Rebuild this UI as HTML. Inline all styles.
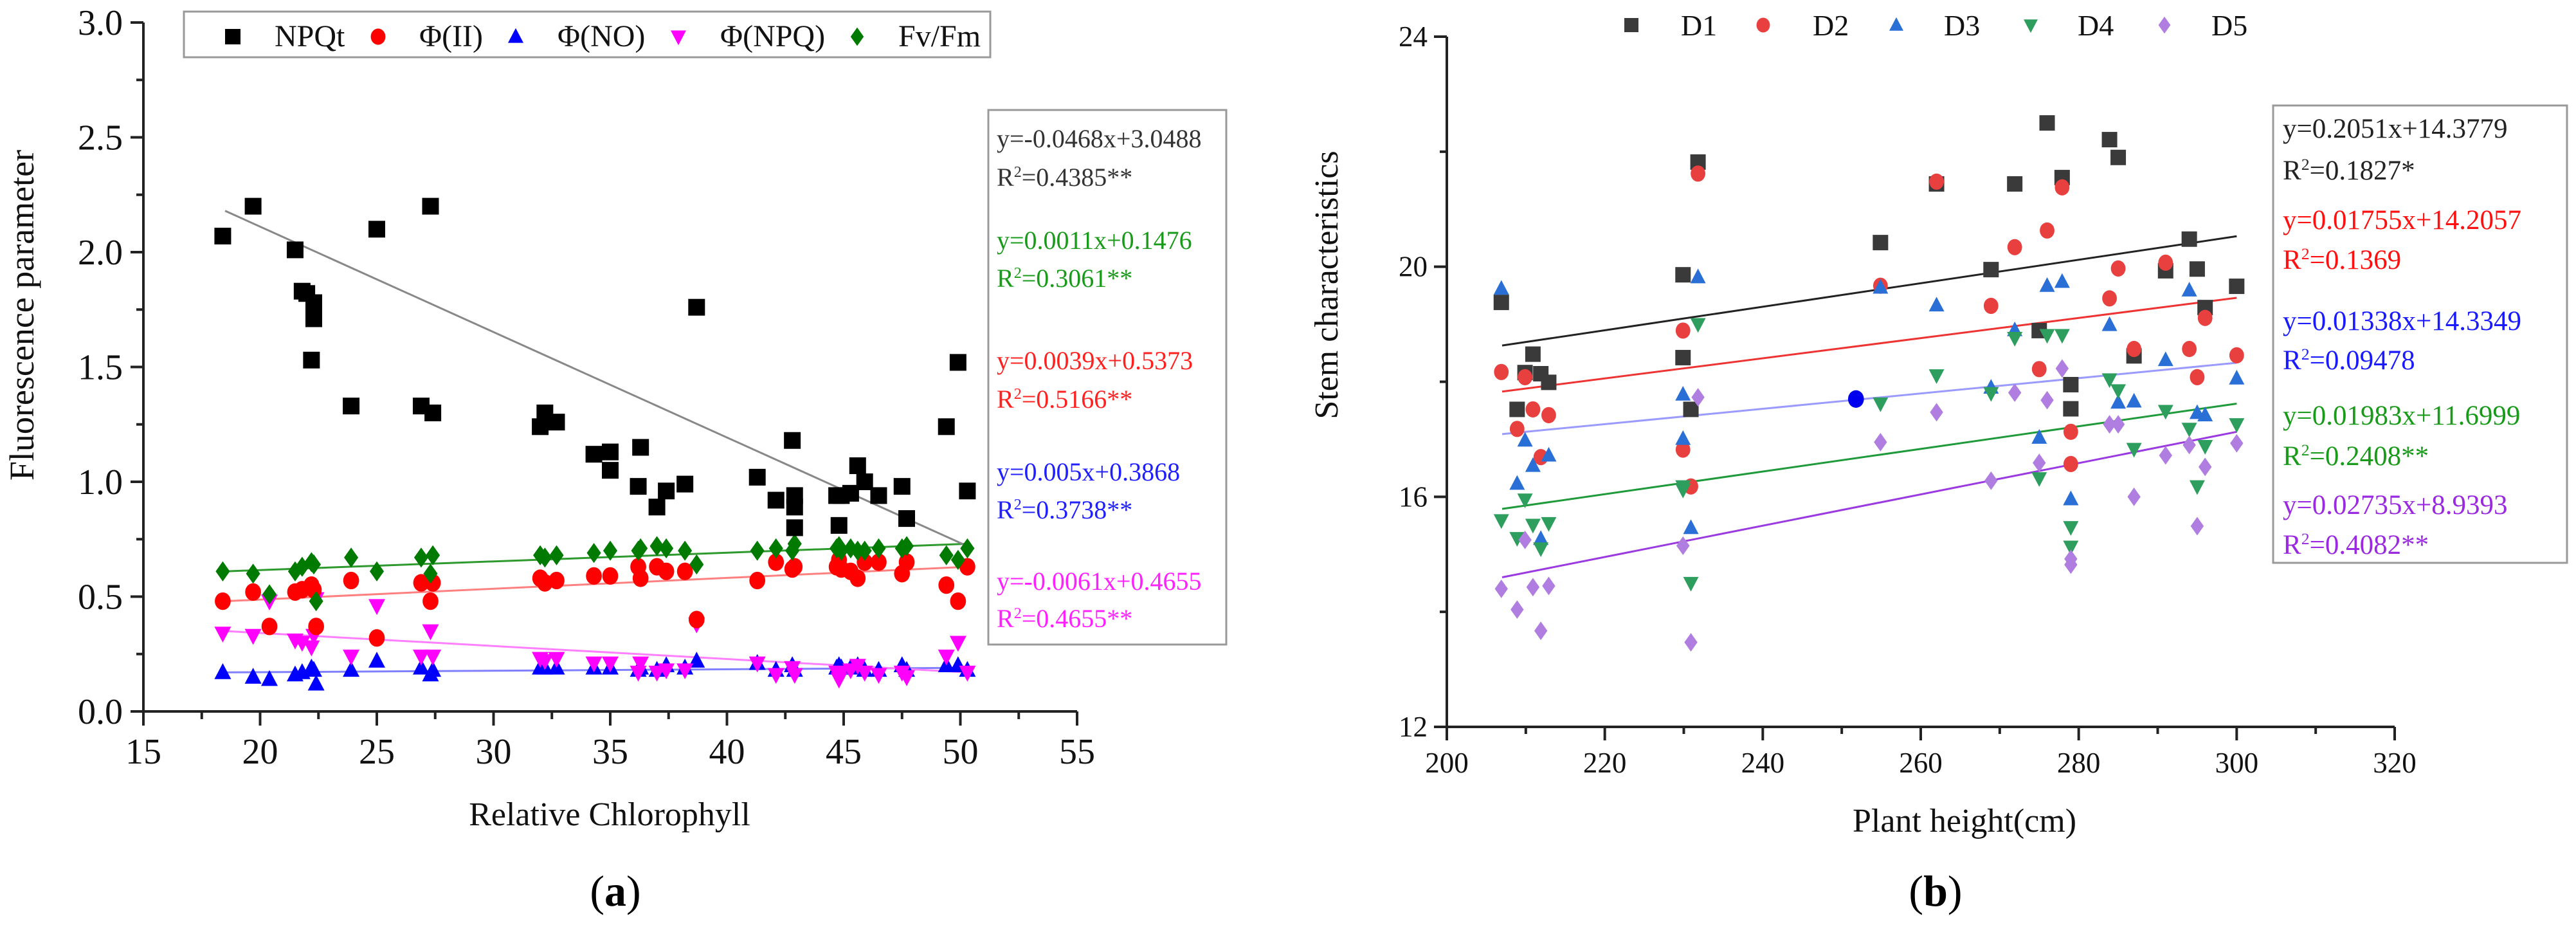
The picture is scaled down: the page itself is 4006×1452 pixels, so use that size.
<!DOCTYPE html>
<html><head><meta charset="utf-8">
<style>
html,body{margin:0;padding:0;background:#fff;}
svg, svg text{font-family:"Liberation Serif","Times New Roman",serif;}
</style></head>
<body>
<svg id="fig" width="4006" height="1447" viewBox="0 0 4006 1447" xmlns="http://www.w3.org/2000/svg" font-family="Liberation Serif, serif">
<g id="pa"></g>
<g id="pb"></g>
</svg>
<script>
// ---------- Panel (a) data ----------
const aX = [18.4,19.7,20.4,21.5,21.8,22.2,22.3,22.4,23.9,25.0,26.9,27.3,27.4,32.0,32.2,32.7,34.3,35.0,36.2,36.3,37.0,37.4,38.2,38.7,41.3,42.1,42.8,42.9,44.7,44.8,44.9,45.3,45.6,45.9,46.5,47.5,47.7,49.4,49.9,50.3];
const aNPQtX = [18.4,19.7,21.5,21.8,22.0,22.3,22.3,22.2,23.9,25.0,26.9,27.3,27.4,32.0,32.2,32.7,34.3,35.0,35.0,36.2,36.3,37.0,37.4,38.2,38.7,41.3,42.1,42.8,42.9,42.9,42.9,44.7,44.8,44.9,45.3,45.6,45.9,46.5,47.5,47.7,49.4,49.9,50.3];
const aNPQtY = [2.07,2.20,2.01,1.83,1.82,1.78,1.71,1.53,1.33,2.10,1.33,2.20,1.30,1.24,1.30,1.26,1.12,1.13,1.05,0.98,1.15,0.89,0.96,0.99,1.76,1.02,0.92,1.18,0.94,0.89,0.80,0.94,0.81,0.94,0.95,1.07,1.00,0.94,0.98,0.84,1.24,1.52,0.96];
const aPhiII = [0.48,0.52,0.37,0.52,0.53,0.55,0.53,0.37,0.57,0.32,0.56,0.48,0.56,0.58,0.56,0.57,0.59,0.59,0.63,0.58,0.63,0.61,0.61,0.40,0.57,0.65,0.62,0.63,0.63,0.66,0.62,0.61,0.58,0.65,0.65,0.60,0.65,0.55,0.48,0.63];
const aPhiNO = [0.17,0.15,0.14,0.16,0.17,0.19,0.18,0.12,0.18,0.22,0.19,0.16,0.18,0.19,0.19,0.19,0.19,0.19,0.18,0.19,0.18,0.20,0.19,0.22,0.21,0.18,0.20,0.18,0.19,0.20,0.19,0.19,0.20,0.18,0.18,0.20,0.18,0.20,0.20,0.18];
const aPhiNPQ = [0.34,0.33,0.48,0.31,0.30,0.28,0.33,0.49,0.24,0.46,0.24,0.35,0.24,0.23,0.22,0.23,0.21,0.21,0.17,0.21,0.17,0.18,0.18,0.38,0.21,0.16,0.19,0.16,0.17,0.14,0.17,0.18,0.20,0.17,0.16,0.17,0.15,0.24,0.30,0.17];
const aFvFm = [0.61,0.60,0.51,0.61,0.63,0.65,0.64,0.48,0.67,0.61,0.67,0.60,0.68,0.68,0.67,0.68,0.69,0.70,0.70,0.71,0.72,0.71,0.70,0.64,0.70,0.71,0.70,0.73,0.71,0.72,0.70,0.71,0.70,0.70,0.71,0.71,0.72,0.68,0.66,0.71];
const aFitRange = [18.5, 50.3];
const aFitNPQt = [2.18, 0.72];
const aFitPhiII = [0.48, 0.63];
const aFitPhiNO = [0.17, 0.19];
const aFitPhiNPQ = [0.35, 0.17];
const aFitFvFm = [0.61, 0.73];
const aXTicks = [15,20,25,30,35,40,45,50,55];
const aYTicks = [0.0,0.5,1.0,1.5,2.0,2.5,3.0];
const aLegendLabels = ["NPQt","Φ(II)","Φ(NO)","Φ(NPQ)","Fv/Fm"];
const aEqLines = ["y=-0.0468x+3.0488","R2=0.4385**","y=0.0011x+0.1476","R2=0.3061**","y=0.0039x+0.5373","R2=0.5166**","y=0.005x+0.3868","R2=0.3738**","y=-0.0061x+0.4655","R2=0.4655**"];

// ---------- Panel (b) data ----------
const bX = [206.9,208.9,209.9,210.9,211.9,212.9,229.9,229.9,230.9,231.8,254.9,262.0,268.9,271.9,275.0,276.0,277.9,279.0,279.0,283.9,285.0,287.0,291.0,294.0,295.0,296.0,300.0];
const bD1 = [19.38,17.52,18.16,18.48,18.14,17.99,19.86,18.42,17.52,21.82,20.42,21.44,19.95,21.44,18.89,22.50,21.55,17.95,17.53,22.21,21.90,18.45,19.93,20.48,19.96,19.29,19.66];
const bD2 = [18.17,17.18,18.08,17.52,16.69,17.42,18.89,16.82,16.18,21.62,19.67,21.48,19.32,20.34,18.22,20.63,21.38,17.13,16.57,19.45,19.97,18.57,20.07,18.57,18.08,19.11,18.46];
const bD3 = [19.62,16.23,16.98,16.54,15.27,16.72,17.78,17.01,15.46,19.82,19.64,19.33,17.90,18.90,17.03,19.67,19.74,15.96,15.96,18.99,17.64,17.66,18.38,19.59,17.46,17.42,18.06];
const bD4 = [15.59,15.28,15.95,15.51,15.10,15.54,16.18,16.12,14.50,19.00,17.62,18.11,17.80,18.76,16.32,18.81,18.81,15.47,15.13,18.04,17.85,16.83,17.49,17.18,16.18,16.88,17.26];
const bD5 = [14.40,14.04,15.25,14.43,13.67,14.45,15.15,15.15,13.47,17.73,16.95,17.47,16.28,17.81,16.59,17.68,18.23,14.92,14.82,17.26,17.26,16.00,16.72,16.90,15.49,16.52,16.93];
const bExtraX = [251.8];
const bExtraY = [17.70];
const bFitRange = [207, 300];
const bFitD1 = [18.63, 20.53];
const bFitD2 = [17.83, 19.46];
const bFitD3 = [17.09, 18.33];
const bFitD4 = [15.79, 17.62];
const bFitD5 = [14.60, 17.13];
const bXTicks = [200,220,240,260,280,300,320];
const bYTicks = [12,16,20,24];
const bLegendLabels = ["D1","D2","D3","D4","D5"];
const bEqLines = ["y=0.2051x+14.3779","R2=0.1827*","y=0.01755x+14.2057","R2=0.1369","y=0.01338x+14.3349","R2=0.09478","y=0.01983x+11.6999","R2=0.2408**","y=0.02735x+8.9393","R2=0.4082**"];

const NS = "http://www.w3.org/2000/svg";
function mk(parent, tag, attrs, text){
  const e = document.createElementNS(NS, tag);
  for (const k in attrs) e.setAttribute(k, attrs[k]);
  if (text !== undefined) e.textContent = text;
  parent.appendChild(e);
  return e;
}
function marker(g, shape, cx, cy, s, color){
  let e;
  const h = s/2;
  if (shape === "square") e = mk(g, "rect", {x:cx-h, y:cy-h, width:s, height:s, fill:color});
  else if (shape === "circle") e = mk(g, "ellipse", {cx:cx, cy:cy, rx:h*0.95, ry:h*1.05, fill:color});
  else if (shape === "up") e = mk(g, "polygon", {points:`${cx},${cy-h*1.1} ${cx+h},${cy+h*0.8} ${cx-h},${cy+h*0.8}`, fill:color});
  else if (shape === "down") e = mk(g, "polygon", {points:`${cx},${cy+h*1.1} ${cx+h},${cy-h*0.8} ${cx-h},${cy-h*0.8}`, fill:color});
  else e = mk(g, "polygon", {points:`${cx},${cy-h*1.2} ${cx+h*0.85},${cy} ${cx},${cy+h*1.2} ${cx-h*0.85},${cy}`, fill:color});
  return e;
}
function eqText(g, x, y, str, color, fs){
  const t = mk(g, "text", {x:x, y:y, fill:color, "font-size":fs});
  if (str.startsWith("R2")) {
    t.appendChild(document.createTextNode("R"));
    mk(t, "tspan", {dy:-fs*0.35, "font-size":fs*0.6}, "2");
    mk(t, "tspan", {dy:fs*0.35}, str.slice(2));
  } else t.textContent = str;
  return t;
}

// ===== Panel A =====
(function(){
  const g = document.getElementById("pa");
  const X0=223, X1=1675, Y0=1106, Y1=35;
  const xs = v => X0 + (v-15)/40*(X1-X0);
  const ys = v => Y0 - v/3*(Y0-Y1);
  const ax = mk(g,"g",{});
  
  
  mk(ax,"line",{x1:X0,y1:Y0,x2:X1,y2:Y0,stroke:"#222","stroke-width":4});
  mk(ax,"line",{x1:X0,y1:Y0,x2:X0,y2:Y1,stroke:"#222","stroke-width":4});
  for (let i=0;i<aXTicks.length;i++){
    const x = xs(aXTicks[i]);
    mk(ax,"line",{x1:x,y1:Y0,x2:x,y2:Y0+22,stroke:"#222","stroke-width":4});
    if (i<aXTicks.length-1){ const xm = xs(aXTicks[i]+2.5); mk(ax,"line",{x1:xm,y1:Y0,x2:xm,y2:Y0+12,stroke:"#222","stroke-width":4}); }
    const t = mk(ax,"text",{x:x,y:1187,"text-anchor":"middle","font-size":56,fill:"#111"},aXTicks[i]);
    
    
  }
  for (let i=0;i<aYTicks.length;i++){
    const y = ys(aYTicks[i]);
    mk(ax,"line",{x1:X0-20,y1:y,x2:X0,y2:y,stroke:"#222","stroke-width":4});
    if (i<aYTicks.length-1){ const ym = ys(aYTicks[i]+0.25); mk(ax,"line",{x1:X0-11,y1:ym,x2:X0,y2:ym,stroke:"#222","stroke-width":4}); }
    const t = mk(ax,"text",{x:X0-32,y:y+19,"text-anchor":"end","font-size":56,fill:"#111"},aYTicks[i].toFixed(1));
    
    
  }
  const yt = mk(g,"text",{x:0,y:0,transform:"translate(52,490) rotate(-90)","text-anchor":"middle","font-size":54,fill:"#111"},"Fluorescence parameter");
  
  
  const xt = mk(g,"text",{x:948,y:1283,"text-anchor":"middle","font-size":52,fill:"#111"},"Relative Chlorophyll");
  
  
  const cap = mk(g,"text",{x:957,y:1408,"text-anchor":"middle","font-size":68,fill:"#000"},"");
  
  
  cap.appendChild(document.createTextNode("("));
  mk(cap,"tspan",{"font-weight":"bold"},"a");
  cap.appendChild(document.createTextNode(")"));

  const fits = [[aFitPhiNO,"#8080ff"],[aFitPhiNPQ,"#ff80ff"],[aFitPhiII,"#ff8080"],[aFitFvFm,"#2e9a2e"],[aFitNPQt,"#888"]];
  fits.forEach(f=>{
    const l = mk(g,"line",{x1:xs(aFitRange[0]),y1:ys(f[0][0]),x2:xs(aFitRange[1]),y2:ys(f[0][1]),stroke:f[1],"stroke-width":3});
    
    
  });
  const S=26;
  const series = [[aX,aPhiNO,"up","#0000ff","phi-no-point"],[aX,aPhiNPQ,"down","#ff00ff","phi-npq-point"],[aX,aPhiII,"circle","#ff0000","phi-ii-point"],[aX,aFvFm,"diamond","#007a00","fv-fm-point"],[aNPQtX,aNPQtY,"square","#000","npqt-point"]];
  series.forEach(s=>{
    for (let i=0;i<s[1].length;i++){
      const m = marker(g,s[2],xs(s[0][i]),ys(s[1][i]),S,s[3]);
      
      
    }
  });
  const lg = mk(g,"g",{});
  
  
  mk(lg,"rect",{x:286,y:18,width:1254,height:71,fill:"#fff",stroke:"#999","stroke-width":3});
  const lmx=[362,588,802,1055,1333], ltx=[427,652,867,1120,1397];
  const lsh=["square","circle","up","down","diamond"], lcol=["#000","#ff0000","#0000ff","#ff00ff","#007a00"];
  for (let i=0;i<5;i++){
    const m = marker(lg,lsh[i],lmx[i],57,24,lcol[i]);
    
    
    const t = mk(lg,"text",{x:ltx[i],y:72,"font-size":48,fill:"#111"},aLegendLabels[i]);
    
    
  }
  const eb = mk(g,"g",{});
  
  
  mk(eb,"rect",{x:1537,y:171,width:370,height:831,fill:"#fff",stroke:"#999","stroke-width":3});
  const ey=[229,289,387,446,574,634,747,806,917,975];
  const ec=["#333","#333","#1a9a1a","#1a9a1a","#ff2020","#ff2020","#2020ff","#2020ff","#ff20ff","#ff20ff"];
  for (let i=0;i<10;i++){
    const t = eqText(eb,1550,ey[i],aEqLines[i],ec[i],40);
    
    
  }
})();

// ===== Panel B =====
(function(){
  const g = document.getElementById("pb");
  const X0=2250, X1=3724, Y0=1130, Y1=57;
  const xs = v => X0 + (v-200)/120*(X1-X0);
  const ys = v => Y0 - (v-12)/12*(Y0-Y1);
  const ax = mk(g,"g",{});
  
  
  mk(ax,"line",{x1:X0,y1:Y0,x2:X1,y2:Y0,stroke:"#222","stroke-width":4});
  mk(ax,"line",{x1:X0,y1:Y0,x2:X0,y2:Y1,stroke:"#222","stroke-width":4});
  for (let i=0;i<bXTicks.length;i++){
    const x = xs(bXTicks[i]);
    mk(ax,"line",{x1:x,y1:Y0,x2:x,y2:Y0+21,stroke:"#222","stroke-width":4});
    if (i<bXTicks.length-1){ const xm = xs(bXTicks[i]+10); mk(ax,"line",{x1:xm,y1:Y0,x2:xm,y2:Y0+11,stroke:"#222","stroke-width":4}); }
    const t = mk(ax,"text",{x:x,y:1201,"text-anchor":"middle","font-size":45,fill:"#111"},bXTicks[i]);
    
    
  }
  for (let i=0;i<bYTicks.length;i++){
    const y = ys(bYTicks[i]);
    mk(ax,"line",{x1:X0-20,y1:y,x2:X0,y2:y,stroke:"#222","stroke-width":4});
    if (i<bYTicks.length-1){ const ym = ys(bYTicks[i]+2); mk(ax,"line",{x1:X0-11,y1:ym,x2:X0,y2:ym,stroke:"#222","stroke-width":4}); }
    const t = mk(ax,"text",{x:X0-30,y:y+15,"text-anchor":"end","font-size":45,fill:"#111"},bYTicks[i]);
    
    
  }
  const yt = mk(g,"text",{x:0,y:0,transform:"translate(2080,443) rotate(-90)","text-anchor":"middle","font-size":52,fill:"#111"},"Stem characteristics");
  
  
  const xt = mk(g,"text",{x:3055,y:1293,"text-anchor":"middle","font-size":52,fill:"#111"},"Plant height(cm)");
  
  
  const cap = mk(g,"text",{x:3010,y:1408,"text-anchor":"middle","font-size":68,fill:"#000"},"");
  
  
  cap.appendChild(document.createTextNode("("));
  mk(cap,"tspan",{"font-weight":"bold"},"b");
  cap.appendChild(document.createTextNode(")"));

  const fits = [[bFitD1,"#222"],[bFitD2,"#ee3333"],[bFitD3,"#9a9aff"],[bFitD4,"#1f9a3a"],[bFitD5,"#9a3ae0"]];
  fits.forEach(f=>{
    const l = mk(g,"line",{x1:xs(bFitRange[0]),y1:ys(f[0][0]),x2:xs(bFitRange[1]),y2:ys(f[0][1]),stroke:f[1],"stroke-width":3});
    
    
  });
  const S=24;
  const series = [[bD1,"square","#3a3a3a","d1-point"],[bD2,"circle","#e8403f","d2-point"],[bD3,"up","#2a6fd6","d3-point"],[bD4,"down","#2e9e5e","d4-point"],[bD5,"diamond","#b07ee0","d5-point"]];
  series.forEach(s=>{
    for (let i=0;i<s[0].length;i++){
      const m = marker(g,s[1],xs(bX[i]),ys(s[0][i]),S,s[2]);
      
      
    }
  });
  for (let i=0;i<bExtraX.length;i++){
    const m = marker(g,"circle",xs(bExtraX[i]),ys(bExtraY[i]),26,"#0000ee");
    
    
  }
  const lg = mk(g,"g",{});
  
  
  const lmx=[2537,2742,2949,3158,3366], ltx=[2614,2819,3023,3231,3439];
  const lsh=["square","circle","up","down","diamond"], lcol=["#3a3a3a","#e8403f","#2a6fd6","#2e9e5e","#b07ee0"];
  for (let i=0;i<5;i++){
    const m = marker(lg,lsh[i],lmx[i],39,22,lcol[i]);
    
    
    const t = mk(lg,"text",{x:ltx[i],y:55,"font-size":46,fill:"#111"},bLegendLabels[i]);
    
    
  }
  const eb = mk(g,"g",{});
  
  
  mk(eb,"rect",{x:3535,y:164,width:457,height:711,fill:"#fff",stroke:"#999","stroke-width":3});
  const ey=[214,279,356,418,513,574,660,723,799,861];
  const ec=["#222","#222","#ff1010","#ff1010","#1a1aff","#1a1aff","#1a9a1a","#1a9a1a","#9a2ae0","#9a2ae0"];
  for (let i=0;i<10;i++){
    const t = eqText(eb,3550,ey[i],bEqLines[i],ec[i],43);
    
    
  }
})();
</script>
</body></html>
